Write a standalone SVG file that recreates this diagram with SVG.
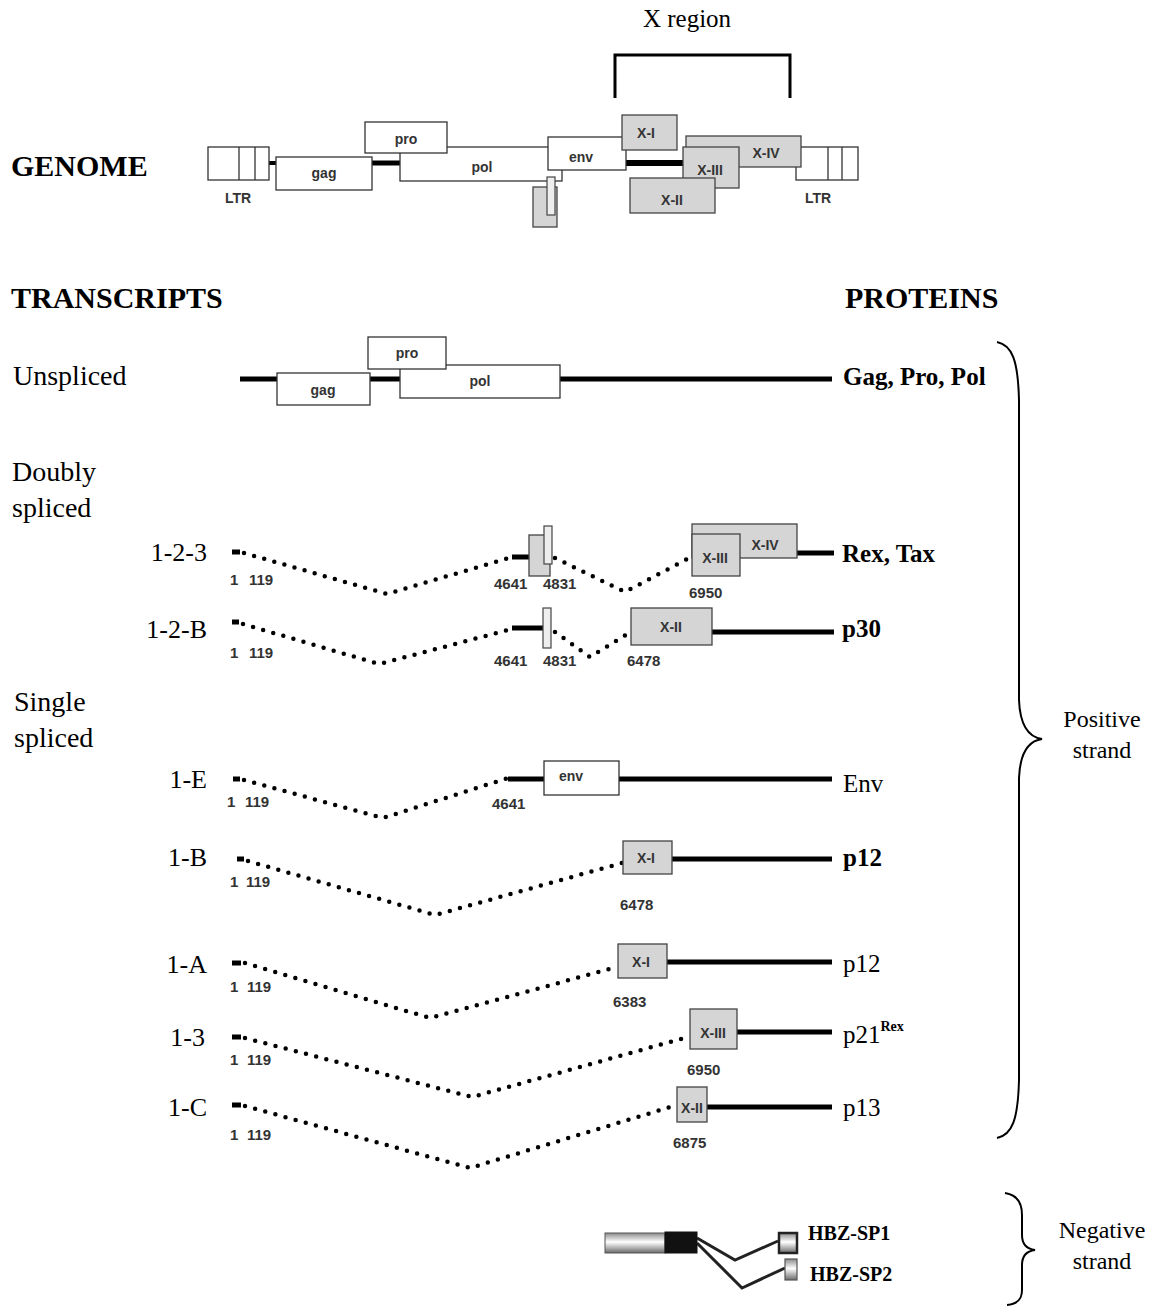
<svg xmlns="http://www.w3.org/2000/svg" width="1159" height="1306" viewBox="0 0 1159 1306">
<defs>
<style>
.box{fill:#fff;stroke:#333;stroke-width:1.3}
.gbox{fill:#d5d5d5;stroke:#444;stroke-width:1.3}
.nbox{fill:#eee;stroke:#444;stroke-width:1.2}
.lbl{font-family:"Liberation Sans",Arial,sans-serif;font-weight:bold;font-size:14px;fill:#333;text-anchor:middle}
.num{font-family:"Liberation Sans",Arial,sans-serif;font-weight:bold;font-size:15px;fill:#333}
.thick{stroke:#000;stroke-width:5;fill:none}
.dot{stroke:#000;stroke-width:4.5;stroke-linecap:round;stroke-dasharray:0 10.5;fill:none}
.brace{stroke:#000;stroke-width:2;fill:none}
.hd{font-family:"Liberation Serif","Times New Roman",serif;font-weight:bold;font-size:30px;fill:#000}
.sec{font-family:"Liberation Serif","Times New Roman",serif;font-size:28px;fill:#000}
.row{font-family:"Liberation Serif","Times New Roman",serif;font-size:26px;fill:#000;text-anchor:end}
.prot{font-family:"Liberation Serif","Times New Roman",serif;font-size:25px;fill:#000}
.b{font-weight:bold}
.side{font-family:"Liberation Serif","Times New Roman",serif;font-size:24px;fill:#000;text-anchor:middle}
.hbz{font-family:"Liberation Serif","Times New Roman",serif;font-weight:bold;font-size:20px;fill:#000}
</style>
<linearGradient id="grad" x1="0" y1="0" x2="0" y2="1">
<stop offset="0" stop-color="#8a8a8a"/>
<stop offset="0.45" stop-color="#ffffff"/>
<stop offset="1" stop-color="#6a6a6a"/>
</linearGradient>
</defs>
<rect width="1159" height="1306" fill="#fff"/>

<!-- Headings -->
<g id="headings">
<text x="687" y="27" class="side" style="font-size:25px">X region</text>
<text x="11" y="176" class="hd">GENOME</text>
<text x="11" y="308" class="hd">TRANSCRIPTS</text>
<text x="845" y="308" class="hd">PROTEINS</text>
<text x="13" y="385" class="sec">Unspliced</text>
<text x="12" y="481" class="sec">Doubly</text>
<text x="12" y="517" class="sec">spliced</text>
<text x="14" y="711" class="sec">Single</text>
<text x="14" y="747" class="sec">spliced</text>
</g>

<!-- X region bracket -->
<g id="xregion-bracket">
<path d="M615,98 V55 H790 V98" stroke="#000" stroke-width="3" fill="none"/>
</g>

<!-- Genome -->
<g id="genome">
<g id="genome-line">
<line x1="269" y1="163" x2="277" y2="163" stroke="#000" stroke-width="4"/>
<line x1="372" y1="163" x2="400" y2="163" stroke="#000" stroke-width="5"/>
<line x1="626" y1="163" x2="684" y2="163" stroke="#000" stroke-width="6"/>
</g>
<g id="ltr-left">
<rect x="208" y="147" width="61" height="33" class="box"/>
<line x1="239" y1="147" x2="239" y2="180" stroke="#333" stroke-width="1.3"/>
<line x1="255" y1="147" x2="255" y2="180" stroke="#333" stroke-width="1.3"/>
<text x="238" y="203" class="lbl">LTR</text>
</g>
<g id="ltr-right">
<rect x="796" y="147" width="62" height="33" class="box"/>
<line x1="828" y1="147" x2="828" y2="180" stroke="#333" stroke-width="1.3"/>
<line x1="842" y1="147" x2="842" y2="180" stroke="#333" stroke-width="1.3"/>
<text x="818" y="203" class="lbl">LTR</text>
</g>
<g id="g-gag"><rect x="276" y="157" width="96" height="33" class="box"/><text x="324" y="178" class="lbl">gag</text></g>
<g id="g-pol"><rect x="400" y="147" width="162" height="34" class="box"/><text x="482" y="172" class="lbl">pol</text></g>
<g id="g-pro"><rect x="365" y="122" width="82" height="31" class="box"/><text x="406" y="144" class="lbl">pro</text></g>
<g id="g-env"><rect x="548" y="137" width="78" height="33" class="box"/><text x="581" y="162" class="lbl">env</text></g>
<g id="g-small"><rect x="533" y="187" width="24" height="40" class="gbox"/><rect x="547" y="177" width="8" height="38" class="nbox"/></g>
<g id="g-x1"><rect x="622" y="115" width="55" height="35" class="gbox"/><text x="646" y="138" class="lbl">X-I</text></g>
<g id="g-x4"><rect x="686" y="136" width="115" height="31" class="gbox"/><text x="766" y="158" class="lbl">X-IV</text></g>
<g id="g-x3"><rect x="683" y="147" width="56" height="41" class="gbox"/><text x="710" y="175" class="lbl">X-III</text></g>
<g id="g-x2"><rect x="630" y="178" width="85" height="35" class="gbox"/><text x="672" y="205" class="lbl">X-II</text></g>
</g>

<!-- Connectors (transcript lines) -->
<g id="connectors">
<line x1="240" y1="379" x2="832" y2="379" class="thick"/>
<line x1="232" y1="552" x2="240" y2="552" class="thick"/>
<polyline points="244,553 387,594 512,557" class="dot"/>
<line x1="512" y1="557" x2="530" y2="557" class="thick"/>
<polyline points="555,558 625,592 691,557" class="dot"/>
<line x1="797" y1="553" x2="834" y2="553" class="thick"/>
<line x1="232" y1="622" x2="239" y2="622" class="thick"/>
<polyline points="243,624 379,664 512,629" class="dot"/>
<line x1="512" y1="628" x2="543" y2="628" class="thick"/>
<polyline points="555,632 590,657 629,633" class="dot"/>
<line x1="712" y1="632" x2="834" y2="632" class="thick"/>
<line x1="233" y1="779" x2="240" y2="779" class="thick"/>
<polyline points="244,780 383,818 508,778" class="dot"/>
<line x1="508" y1="779" x2="544" y2="779" class="thick"/>
<line x1="619" y1="779" x2="832" y2="779" class="thick"/>
<line x1="237" y1="859" x2="244" y2="859" class="thick"/>
<polyline points="248,861 435,915 622,863" class="dot"/>
<line x1="672" y1="859" x2="832" y2="859" class="thick"/>
<line x1="232" y1="963" x2="241" y2="963" class="thick"/>
<polyline points="245,963 430,1018 617,967" class="dot"/>
<line x1="667" y1="962" x2="832" y2="962" class="thick"/>
<line x1="232" y1="1037" x2="241" y2="1037" class="thick"/>
<polyline points="245,1038 472,1097 688,1037" class="dot"/>
<line x1="737" y1="1032" x2="832" y2="1032" class="thick"/>
<line x1="232" y1="1105" x2="241" y2="1105" class="thick"/>
<polyline points="245,1106 470,1168 677,1105" class="dot"/>
<line x1="707" y1="1107" x2="832" y2="1107" class="thick"/>
<polyline points="697,1238 735,1260 778,1241" stroke="#222" stroke-width="3" fill="none"/>
<polyline points="697,1243 742,1288 785,1268" stroke="#222" stroke-width="3" fill="none"/>
</g>

<g id="tr-unspliced">
<rect x="277" y="373" width="93" height="32" class="box"/><text x="323" y="395" class="lbl">gag</text>
<rect x="400" y="365" width="160" height="33" class="box"/><text x="480" y="386" class="lbl">pol</text>
<rect x="368" y="337" width="78" height="32" class="box"/><text x="407" y="358" class="lbl">pro</text>
<text x="843" y="385" class="prot b">Gag, Pro, Pol</text>
</g>

<g id="tr-123">
<text x="207" y="561" class="row">1-2-3</text>
<rect x="529" y="535" width="21" height="41" class="gbox"/>
<rect x="544" y="526" width="8" height="38" class="nbox"/>
<rect x="692" y="524" width="105" height="34" class="gbox"/><text x="765" y="550" class="lbl">X-IV</text>
<rect x="692" y="534" width="48" height="42" class="gbox"/><text x="715" y="563" class="lbl">X-III</text>
<text x="230" y="585" class="num">1</text><text x="249" y="585" class="num">119</text>
<text x="494" y="589" class="num">4641</text><text x="543" y="589" class="num">4831</text>
<text x="689" y="598" class="num">6950</text>
<text x="842" y="562" class="prot b">Rex, Tax</text>
</g>

<g id="tr-12B">
<text x="207" y="638" class="row">1-2-B</text>
<rect x="543" y="608" width="8" height="40" class="nbox"/>
<rect x="631" y="608" width="81" height="37" class="gbox"/><text x="671" y="632" class="lbl">X-II</text>
<text x="230" y="658" class="num">1</text><text x="249" y="658" class="num">119</text>
<text x="494" y="666" class="num">4641</text><text x="543" y="666" class="num">4831</text>
<text x="627" y="666" class="num">6478</text>
<text x="842" y="637" class="prot b">p30</text>
</g>

<g id="tr-1E">
<text x="207" y="788" class="row">1-E</text>
<rect x="544" y="761" width="75" height="34" class="box"/><text x="571" y="781" class="lbl">env</text>
<text x="227" y="807" class="num">1</text><text x="245" y="807" class="num">119</text>
<text x="492" y="809" class="num">4641</text>
<text x="843" y="792" class="prot">Env</text>
</g>

<g id="tr-1B">
<text x="207" y="866" class="row">1-B</text>
<rect x="623" y="841" width="49" height="33" class="gbox"/><text x="646" y="863" class="lbl">X-I</text>
<text x="230" y="887" class="num">1</text><text x="246" y="887" class="num">119</text>
<text x="620" y="910" class="num">6478</text>
<text x="843" y="866" class="prot b">p12</text>
</g>

<g id="tr-1A">
<text x="207" y="973" class="row">1-A</text>
<rect x="618" y="944" width="49" height="34" class="gbox"/><text x="641" y="967" class="lbl">X-I</text>
<text x="230" y="992" class="num">1</text><text x="247" y="992" class="num">119</text>
<text x="613" y="1007" class="num">6383</text>
<text x="843" y="972" class="prot">p12</text>
</g>

<g id="tr-13">
<text x="205" y="1046" class="row">1-3</text>
<rect x="690" y="1009" width="47" height="40" class="gbox"/><text x="713" y="1038" class="lbl">X-III</text>
<text x="230" y="1065" class="num">1</text><text x="247" y="1065" class="num">119</text>
<text x="687" y="1075" class="num">6950</text>
<text x="843" y="1043" class="prot">p21<tspan class="b" style="font-size:14px" dy="-12">Rex</tspan></text>
</g>

<g id="tr-1C">
<text x="207" y="1116" class="row">1-C</text>
<rect x="677" y="1087" width="30" height="35" class="gbox"/><text x="692" y="1113" class="lbl">X-II</text>
<text x="230" y="1140" class="num">1</text><text x="247" y="1140" class="num">119</text>
<text x="673" y="1148" class="num">6875</text>
<text x="843" y="1116" class="prot">p13</text>
</g>

<g id="hbz">
<rect x="605" y="1233" width="60" height="20" fill="url(#grad)" stroke="#555" stroke-width="1"/>
<rect x="665" y="1232" width="32" height="21" fill="#111" stroke="#111"/>
<rect x="779" y="1233" width="18" height="20" fill="url(#grad)" stroke="#222" stroke-width="2.5"/>
<rect x="785" y="1259" width="12" height="21" fill="url(#grad)" stroke="#555" stroke-width="1.2"/>
<text x="808" y="1240" class="hbz">HBZ-SP1</text>
<text x="810" y="1281" class="hbz">HBZ-SP2</text>
</g>

<g id="positive-strand">
<path class="brace" d="M997,342 C1012,345 1018,360 1019,400 L1019,700 C1020,725 1028,737 1042,739 C1028,741 1020,753 1019,778 L1019,1080 C1018,1120 1012,1135 997,1138"/>
<text x="1102" y="727" class="side">Positive</text>
<text x="1102" y="758" class="side">strand</text>
</g>
<g id="negative-strand">
<path class="brace" d="M1005,1193 C1018,1195 1022,1205 1022,1215 L1022,1235 C1022,1244 1027,1249 1035,1250 C1027,1251 1022,1256 1022,1265 L1022,1290 C1022,1299 1018,1304 1007,1305"/>
<text x="1102" y="1238" class="side">Negative</text>
<text x="1102" y="1269" class="side">strand</text>
</g>
</svg>
